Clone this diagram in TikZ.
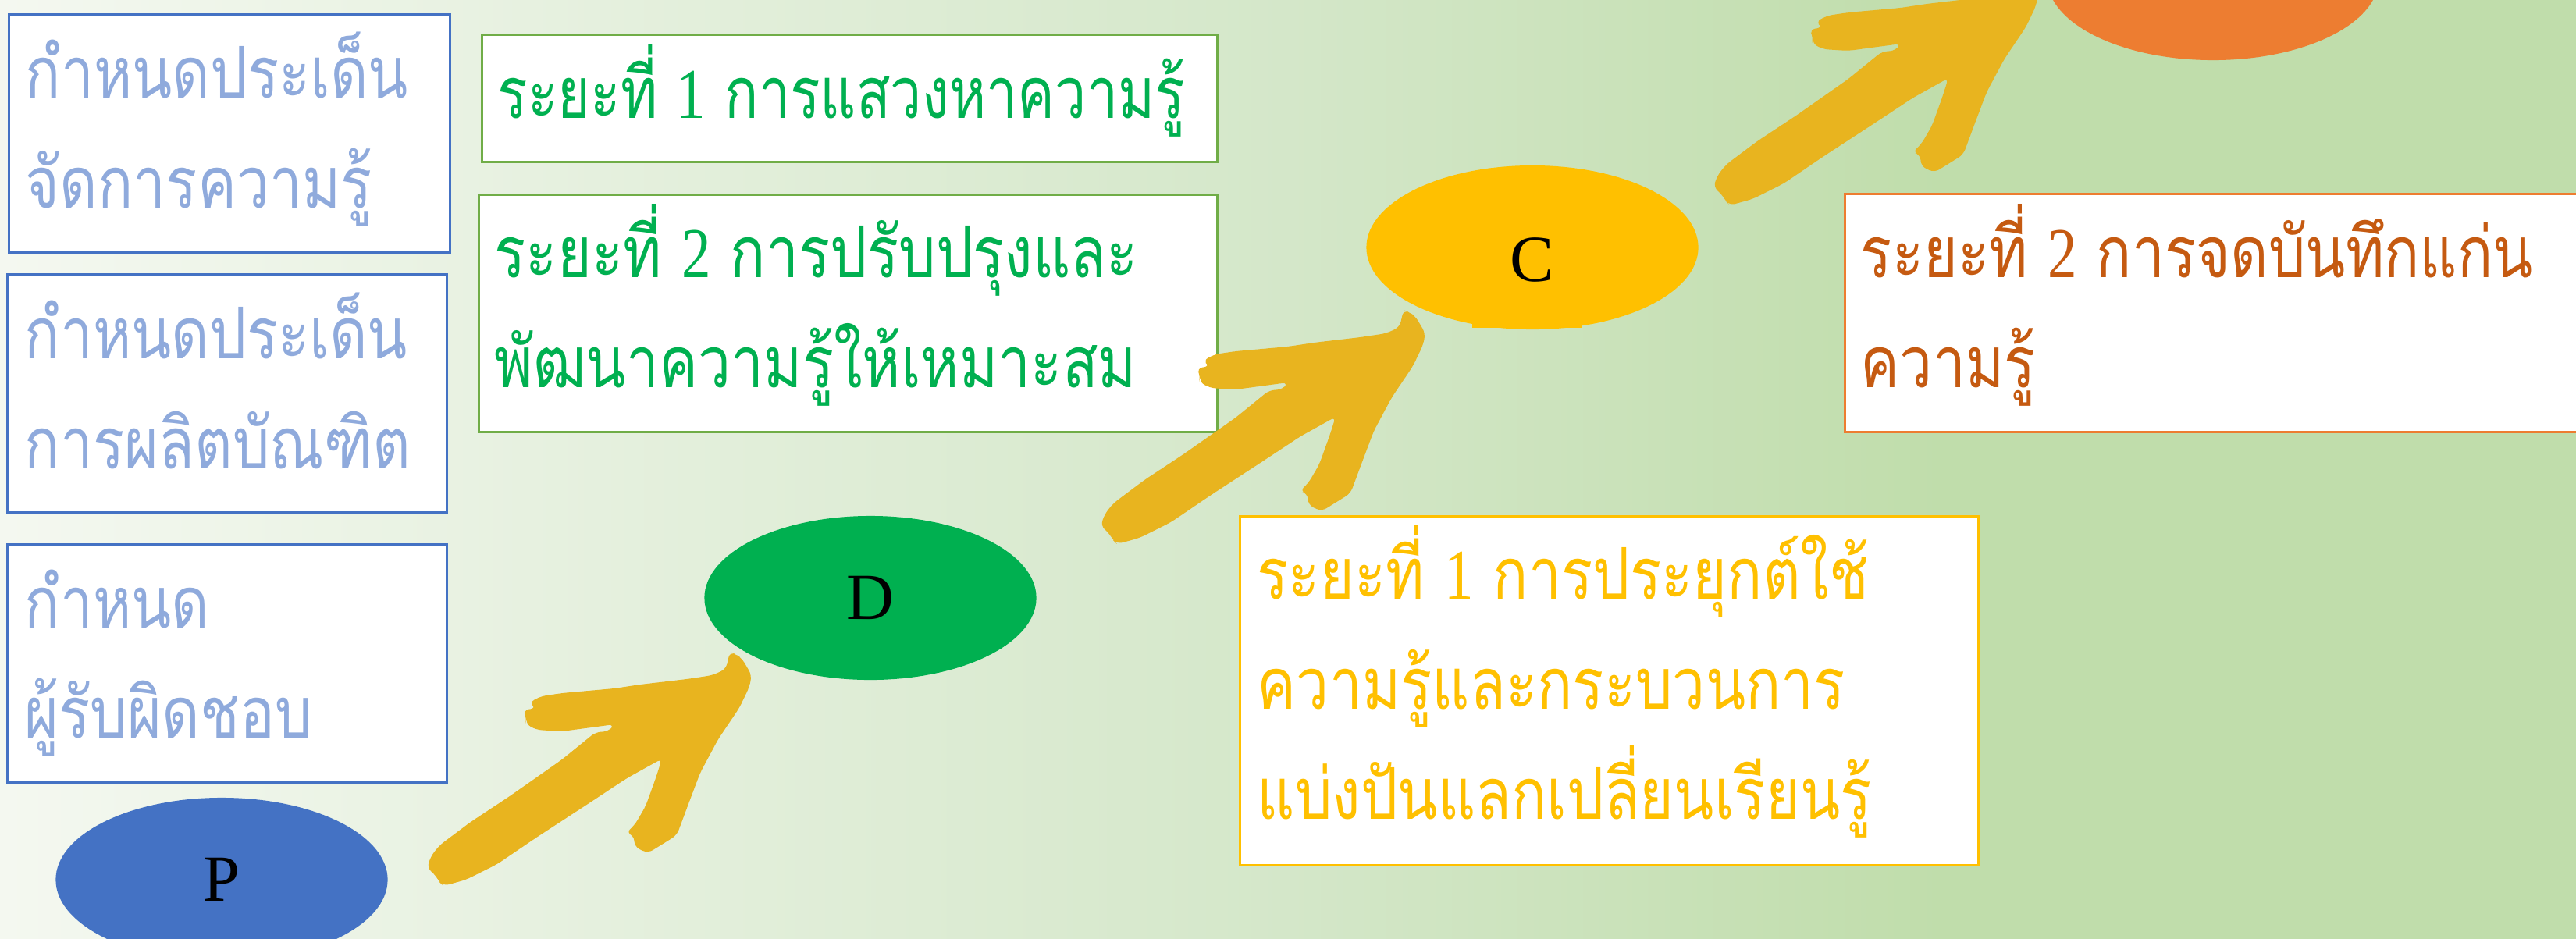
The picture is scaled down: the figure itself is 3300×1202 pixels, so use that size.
\documentclass[tikz,border=0pt]{standalone}
\usepackage{fontspec}
\usetikzlibrary{shapes.geometric}
\setmainfont{Liberation Serif}
\newfontfamily\thaifont[Script=Thai,FakeStretch=0.82]{Loma}
\newfontfamily\thainarrow[Script=Thai,FakeStretch=0.785]{Loma}
\newfontfamily\digitfont[FakeStretch=0.82]{Liberation Serif}
\definecolor{bgL}{HTML}{F4F8F0}
\definecolor{bgM}{HTML}{D4E7C9}
\definecolor{bgR}{HTML}{C0DDAB}
\definecolor{cBlue}{HTML}{4472C4}
\definecolor{cBlueTxt}{HTML}{8FAADC}
\definecolor{cGreenLine}{HTML}{70AD47}
\definecolor{cGreen}{HTML}{00B050}
\definecolor{cOrange}{HTML}{ED7D31}
\definecolor{cOrangeTxt}{HTML}{C55A11}
\definecolor{cGold}{HTML}{FFC000}
\definecolor{cArrow}{HTML}{E8B41F}
\pgfdeclarehorizontalshading{bgshade}{100bp}{color(0bp)=(bgL); color(25bp)=(bgL); color(50bp)=(bgM); color(62.7bp)=(bgR); color(100bp)=(bgR)}
\newcommand{\dg}[1]{{\digitfont #1}}
\tikzset{
  framebox/.style={draw=#1, line width=0.03cm, fill=white, anchor=north west, inner sep=0pt},
  ttext/.style={text=#1, anchor=base west, inner sep=0pt, align=left,
    font=\thaifont\fontsize{26pt}{40pt}\selectfont},
  ell/.style={ellipse, minimum width=4.25cm, minimum height=2.1cm, inner sep=0pt,
    font=\fontsize{24pt}{24pt}\selectfont, text=black},
  brusharrow/.pic={
    \fill[cArrow, rounded corners=2pt] (0,0) -- (-5,22) -- (-22,30) -- (-55,35) -- (-115,42) -- (-148,47)
      -- (-215,53) -- (-242,57) -- (-257,65) -- (-248,72) -- (-265,75) -- (-260,85)
      -- (-262,92) -- (-248,100) -- (-215,102) -- (-148,93) -- (-155,102) -- (-172,103)
      -- (-215,138) -- (-282,185) -- (-332,218) -- (-372,248) -- (-383,262) -- (-388,277)
      -- (-378,285) -- (-372,295) -- (-367,300) -- (-338,292) -- (-298,272) -- (-248,238)
      -- (-182,195) -- (-132,162) -- (-87,137) -- (-95,162) -- (-108,198) -- (-122,222)
      -- (-133,232) -- (-123,235) -- (-122,250) -- (-105,258) -- (-68,235) -- (-52,192)
      -- (-38,155) -- (-15,112) -- (12,72) -- (25,45) -- (28,30) -- (15,8) -- (7,3) -- cycle;
  }
}
\begin{document}
\begin{tikzpicture}[x=0.01cm,y=-0.01cm]
\useasboundingbox (0,0) rectangle (3300,1202);
\clip (0,0) rectangle (3300,1202);
\shade[shading=bgshade] (0,0) rectangle (3300,1202);

% left blue boxes (text anchored at the baseline of its last line)
\node[framebox=cBlue, minimum width=5.65cm, minimum height=3.05cm] (b1) at (10,17) {};
\node[ttext=cBlueTxt] (b1t) at (32,266) {กำหนดประเด็น\\จัดการความรู้};
\node[framebox=cBlue, minimum width=5.63cm, minimum height=3.05cm] (b2) at (8,350) {};
\node[ttext=cBlueTxt] (b2t) at (31,600) {กำหนดประเด็น\\การผลิตบัณฑิต};
\node[framebox=cBlue, minimum width=5.63cm, minimum height=3.05cm] (b3) at (8,696) {};
\node[ttext=cBlueTxt] (b3t) at (31,945) {กำหนด\\ผู้รับผิดชอบ};

% green boxes
\node[framebox=cGreenLine, minimum width=9.41cm, minimum height=1.63cm] (g1) at (616,43) {};
\node[ttext=cGreen, font=\thainarrow\fontsize{26pt}{40pt}\selectfont] (g1t) at (637,151) {ระยะที่ \dg{1} การแสวงหาความรู้};
\node[framebox=cGreenLine, minimum width=9.45cm, minimum height=3.04cm] (g2) at (612,248) {};
\node[ttext=cGreen] (g2t) at (633,496) {ระยะที่ \dg{2} การปรับปรุงและ\\พัฒนาความรู้ให้เหมาะสม};

% orange box
\node[framebox=cOrange, minimum width=9.6cm, minimum height=3.05cm] (o1) at (2362,247) {};
\node[ttext=cOrangeTxt] (o1t) at (2383,496) {ระยะที่ \dg{2} การจดบันทึกแก่น\\ความรู้};

% yellow box
\node[framebox=cGold, minimum width=9.45cm, minimum height=4.47cm] (y1) at (1587,660) {};
\node[ttext=cGold] (y1t) at (1610,1049) {ระยะที่ \dg{1} การประยุกต์ใช้\\ความรู้และกระบวนการ\\แบ่งปันแลกเปลี่ยนเรียนรู้};

% ellipses
\node[ell, fill=cBlue] (P) at (284,1127) {P};
\node[ell, fill=cGreen] (D) at (1115,766) {D};
\node[ell, fill=cGold] (C) at (1963,317) {};
\fill[cGold] (1886,405) rectangle (2027,420);
\node[font=\fontsize{24pt}{24pt}\selectfont, text=black] (Clab) at ([yshift=-0.16cm]C.center) {C};
\node[ell, fill=cOrange] (A) at (2835,-28) {};

% brush arrows
\coordinate (tPD) at (935,835);
\coordinate (tDC) at (1798,397);
\coordinate (tCA) at (2583,-37);
\pic at (tPD) {brusharrow};
\pic at (tDC) {brusharrow};
\pic at (tCA) {brusharrow};
\end{tikzpicture}
\end{document}
